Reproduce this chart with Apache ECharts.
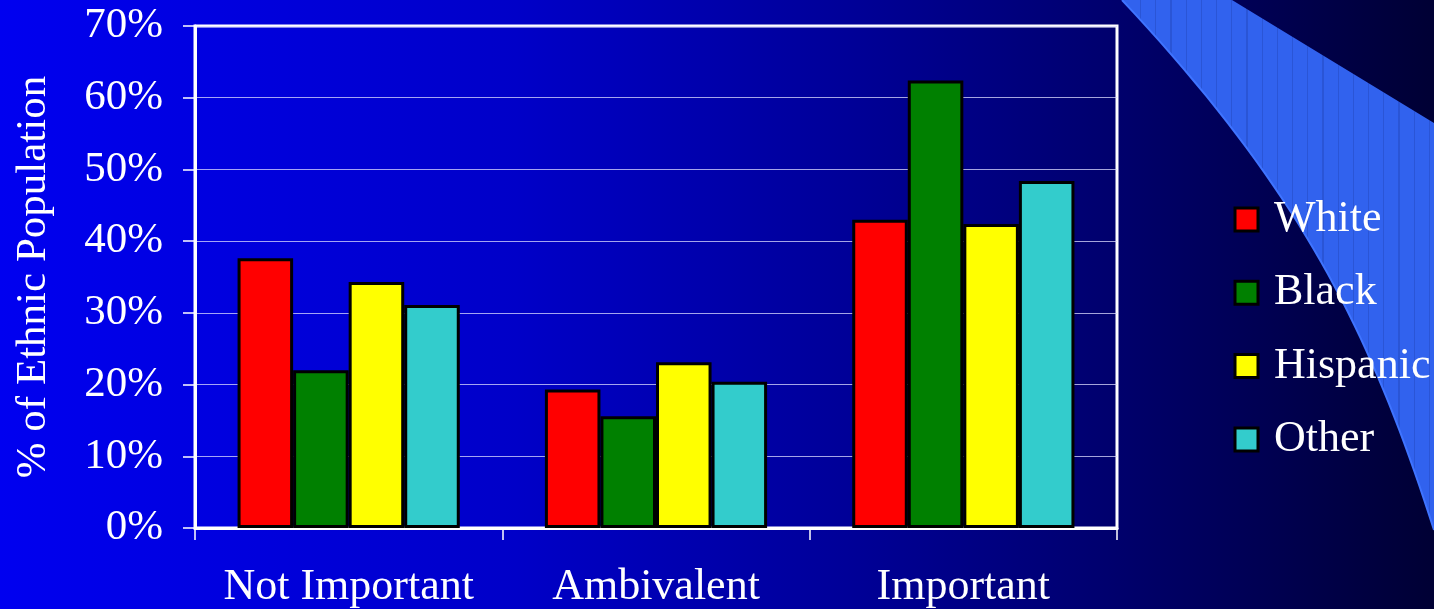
<!DOCTYPE html>
<html>
<head>
<meta charset="utf-8">
<style>
  html, body { margin: 0; padding: 0; background: #000040; }
  #chart { width: 1434px; height: 609px; }
</style>
<script src="https://cdn.jsdelivr.net/npm/echarts@6/dist/echarts.min.js"></script>
</head>
<body>
<div id="chart"></div>
<script>
// Attitude categories and share of each ethnic group (percent)
var categories = ['Not Important', 'Ambivalent', 'Important'];
var seriesNames = ['White', 'Black', 'Hispanic', 'Other'];
var whiteValues = [37.6, 19.3, 43.0];
var blackValues = [22.0, 15.6, 62.4];
var hispanicValues = [34.3, 23.1, 42.4];
var otherValues = [31.1, 20.4, 48.4];
var yTicks = [0, 10, 20, 30, 40, 50, 60, 70];

var seriesValues = [whiteValues, blackValues, hispanicValues, otherValues];
var seriesColors = ['#FF0000', '#008000', '#FFFF00', '#33CCCC'];

var FONT = '"Liberation Serif", "Times New Roman", "DejaVu Serif", serif';

// Striped fill for the decorative swoosh: thin darker vertical lines every ~15px
function stripedFill() {
  var x0 = 1120, x1 = 1434, span = x1 - x0;
  var base = '#3162EE', line = '#2A55D6';
  var stops = [{ offset: 0, color: base }];
  for (var x = 1140; x < 1434; x += 15.2) {
    var a = (x - x0) / span, b = (x + 1.2 - x0) / span;
    stops.push({ offset: a, color: base });
    stops.push({ offset: a, color: line });
    stops.push({ offset: b, color: line });
    stops.push({ offset: b, color: base });
  }
  stops.push({ offset: 1, color: base });
  return { type: 'linear', x: x0, y: 0, x2: x1, y2: 0, global: true, colorStops: stops };
}

// Lower edge of the swoosh, sampled from a cubic curve
function swooshEdge() {
  var p0 = [1434, 530], c1 = [1370, 330], c2 = [1300, 190], p3 = [1122, 0];
  var pts = [];
  for (var i = 0; i <= 40; i++) {
    var t = i / 40, u = 1 - t;
    pts.push([
      u * u * u * p0[0] + 3 * u * u * t * c1[0] + 3 * u * t * t * c2[0] + t * t * t * p3[0],
      u * u * u * p0[1] + 3 * u * u * t * c1[1] + 3 * u * t * t * c2[1] + t * t * t * p3[1]
    ]);
  }
  return pts;
}
var edge = swooshEdge();
var swooshPoints = [[1232, 0], [1434, 123]].concat(edge);

var chart = echarts.init(document.getElementById('chart'), null, { renderer: 'canvas' });

var option = {
  animation: false,
  backgroundColor: {
    type: 'linear', x: 0, y: 0, x2: 1, y2: 0,
    colorStops: [
      { offset: 0, color: '#0000F0' },
      { offset: 0.36, color: '#0000C8' },
      { offset: 0.59, color: '#000098' },
      { offset: 0.78, color: '#00006C' },
      { offset: 1, color: '#000034' }
    ]
  },
  graphic: [
    {
      type: 'polygon',
      z: 0,
      silent: true,
      shape: { points: swooshPoints },
      style: { fill: stripedFill() }
    },
    {
      type: 'polyline',
      z: 0,
      silent: true,
      shape: { points: edge },
      style: { fill: null, stroke: '#3F74FF', lineWidth: 2 }
    }
  ],
  legend: {
    orient: 'vertical',
    left: 1233.5,
    top: 197.5,
    padding: 0,
    itemWidth: 23,
    itemHeight: 23,
    itemGap: 29.3,
    icon: 'rect',
    itemStyle: { borderColor: '#000', borderWidth: 3 },
    textStyle: {
      color: '#FFFFFF', fontFamily: FONT, fontSize: 44, lineHeight: 44,
      padding: [0, 0, 0, 11]
    },
    data: seriesNames
  },
  grid: {
    left: 195,
    right: 317,
    top: 26,
    bottom: 79,
    show: true,
    borderColor: '#FFFFFF',
    borderWidth: 3,
    containLabel: false
  },
  xAxis: {
    type: 'category',
    data: categories,
    axisLine: { show: true, lineStyle: { color: '#FFFFFF', width: 3 } },
    axisTick: { show: true, length: 12, interval: 0, alignWithLabel: false, lineStyle: { color: '#FFFFFF', width: 1.5 } },
    axisLabel: { color: '#FFFFFF', fontFamily: FONT, fontSize: 44, margin: 37, interval: 0 },
    splitLine: { show: false }
  },
  yAxis: {
    type: 'value',
    min: yTicks[0],
    max: yTicks[yTicks.length - 1],
    interval: 10,
    name: '% of Ethnic Population',
    nameLocation: 'middle',
    nameRotate: 90,
    nameGap: 140,
    nameTextStyle: { color: '#FFFFFF', fontFamily: FONT, fontSize: 43 },
    axisLine: { show: true, lineStyle: { color: '#FFFFFF', width: 3 } },
    axisTick: { show: true, length: 12, lineStyle: { color: '#FFFFFF', width: 1.5 } },
    axisLabel: { color: '#FFFFFF', fontFamily: FONT, fontSize: 43, margin: 32, formatter: '{value}%' },
    splitLine: { show: true, lineStyle: { color: 'rgba(220,220,255,0.75)', width: 1 } }
  },
  series: seriesNames.map(function (name, i) {
    return {
      name: name,
      type: 'bar',
      data: seriesValues[i],
      barGap: '0%',
      barCategoryGap: '27.7%',
      itemStyle: { color: seriesColors[i], borderColor: '#000000', borderWidth: 3 }
    };
  })
};

chart.setOption(option);
</script>
</body>
</html>
